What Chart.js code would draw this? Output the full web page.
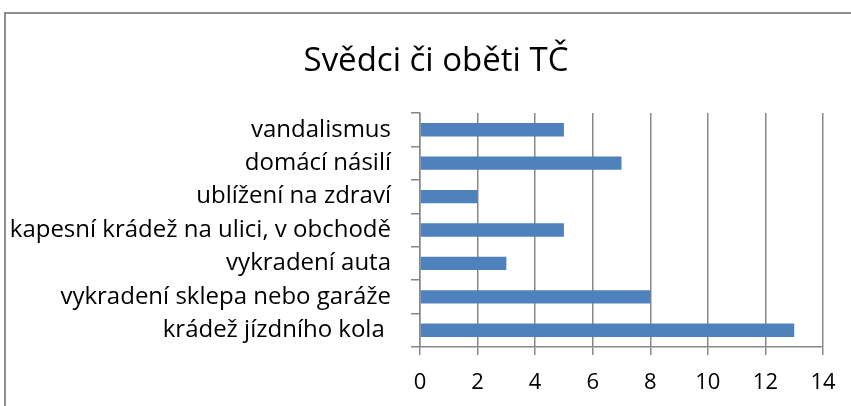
<!DOCTYPE html>
<html>
<head>
<meta charset="utf-8">
<script src="https://cdn.jsdelivr.net/npm/chart.js@4"></script>
<style>
  html, body { margin: 0; padding: 0; background: #fff; overflow: hidden; }
  #frame { position: absolute; left: 4px; top: 12px; width: 900px; height: 450px; border: 2px solid #8e8e8e; }
  #wrap { position: absolute; left: 0; top: 0; width: 851px; height: 406px; }
</style>
</head>
<body>
<div id="frame"></div>
<div id="wrap"><canvas id="chart" width="851" height="406"></canvas></div>
<script>
// Data
const categories = [
    "vandalismus",
    "domácí násilí",
    "ublížení na zdraví",
    "kapesní krádež na ulici, v obchodě",
    "vykradení auta",
    "vykradení sklepa nebo garáže",
    "krádež jízdního kola "
];
const values = [5, 7, 2, 5, 3, 8, 13];
const xMin = 0;
const xMax = 14;
const xStep = 2;
const titleText = "Svědci či oběti TČ";

const gridColor = "#878787";
const font = "Open Sans";

// title is centred on the whole (wider) chart frame, not on the canvas
const frameTitle = {
    id: "frameTitle",
    afterDraw(chart) {
        const ctx = chart.ctx;
        ctx.save();
        ctx.font = "33px '" + font + "'";
        ctx.fillStyle = "#000";
        ctx.textAlign = "center";
        ctx.textBaseline = "middle";
        ctx.fillText(titleText, 436, 62);
        ctx.restore();
    }
};

new Chart(document.getElementById("chart"), {
    type: "bar",
    data: {
        labels: categories,
        datasets: [{
            data: values,
            backgroundColor: "#4F81BD",
            barPercentage: 0.4,
            categoryPercentage: 1.0
        }]
    },
    options: {
        indexAxis: "y",
        responsive: false,
        animation: false,
        layout: { padding: { left: 0, right: 28, top: 113, bottom: 0 } },
        plugins: {
            legend: { display: false },
            tooltip: { enabled: false },
            title: { display: false }
        },
        scales: {
            x: {
                min: xMin,
                max: xMax,
                ticks: { stepSize: xStep, color: "#000", font: { family: font, size: 22 }, padding: 15 },
                grid: { color: gridColor, lineWidth: 1.5, tickLength: 8 },
                border: { color: gridColor, width: 1.5 },
                afterFit: function(scale) { scale.height = 59; }
            },
            y: {
                ticks: { color: "#000", font: { family: font, size: 24 }, padding: 20 },
                grid: { color: gridColor, lineWidth: 1.5, drawOnChartArea: false, tickLength: 9, offset: true },
                border: { color: gridColor, width: 1.5 },
                afterFit: function(scale) { scale.width = 420; }
            }
        }
    },
    plugins: [frameTitle]
});
</script>
</body>
</html>
